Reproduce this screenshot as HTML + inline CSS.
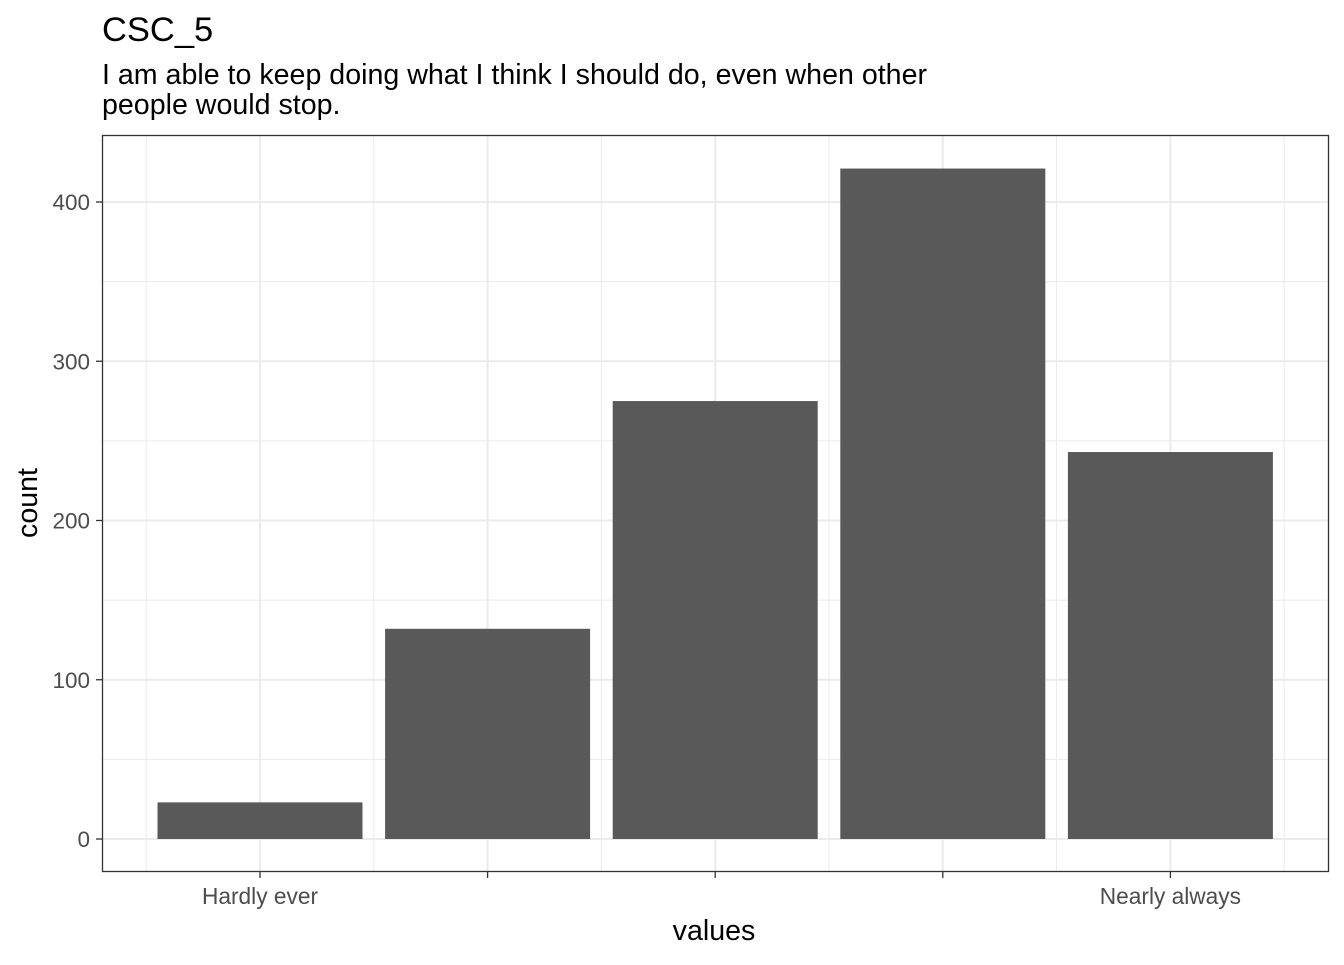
<!DOCTYPE html>
<html><head><meta charset="utf-8"><style>
body{margin:0;background:#fff;font-family:"Liberation Sans",Arial,sans-serif;}
</style></head><body>
<svg id="chart" width="1344" height="960" xmlns="http://www.w3.org/2000/svg">
<text x="102" y="41" font-size="34.5" fill="#000">CSC_5</text>
<text x="102" y="84" font-size="28.6" fill="#000">I am able to keep doing what I think I should do, even when other</text>
<text x="102" y="114" font-size="28.6" fill="#000">people would stop.</text>
<g id="grid"></g>
<g id="bars"></g>
<rect x="102.5" y="135.5" width="1226" height="736" fill="none" stroke="#333" stroke-width="1.3"/>
<g id="axes"></g>
<text x="714" y="940" font-size="28.6" text-anchor="middle">values</text>
<text transform="translate(37,503) rotate(-90)" font-size="28.6" text-anchor="middle">count</text>
</svg>
<script>
const categories = ["1","2","3","4","5"];
const tickLabels = ["Hardly ever","","","","Nearly always"];
const counts = [23, 132, 275, 421, 243];
const yTicks = [0,100,200,300,400];
const NS="http://www.w3.org/2000/svg";
const x0=102,x1=1329,y0=135,y1=872;
const step=227.6, first=260;
function xs(i){return first+i*step;}
function ys(v){return 839-v*1.5925;}
const grid=document.getElementById('grid'),bars=document.getElementById('bars'),axes=document.getElementById('axes');
function mk(tag,attrs,parent){const e=document.createElementNS(NS,tag);for(const k in attrs)e.setAttribute(k,attrs[k]);parent.appendChild(e);return e;}
for(let v=-50;v<=450;v+=100){const y=ys(v);if(y<y0||y>y1)continue;
 const l=mk('line',{x1:x0,x2:x1,y1:y,y2:y,stroke:'#ebebeb','stroke-width':1},grid);
 
 }
for(let i=-0.5;i<categories.length;i++){const x=xs(i);
 const l=mk('line',{x1:x,x2:x,y1:y0,y2:y1,stroke:'#ebebeb','stroke-width':1},grid);
 
 }
yTicks.forEach(v=>{const y=ys(v);
 const l=mk('line',{x1:x0,x2:x1,y1:y,y2:y,stroke:'#ebebeb','stroke-width':2},grid);
 
 
 const t=mk('line',{x1:96,x2:102,y1:y,y2:y,stroke:'#333','stroke-width':1.3},axes);
 
 
 const tx=mk('text',{x:90,y:y+8,'font-size':22.5,fill:'#4d4d4d','text-anchor':'end'},axes);
 tx.textContent=v;
 
 });
categories.forEach((c,i)=>{const x=xs(i);
 const l=mk('line',{x1:x,x2:x,y1:y0,y2:y1,stroke:'#ebebeb','stroke-width':2},grid);
 
 
 const r=mk('rect',{x:x-102.5,width:205,y:ys(counts[i]),height:ys(0)-ys(counts[i]),fill:'#595959'},bars);
 
 
 const t=mk('line',{x1:x,x2:x,y1:872,y2:878,stroke:'#333','stroke-width':1.3},axes);
 
 
 if(tickLabels[i]){const tx=mk('text',{x:x,y:904,'font-size':22.7,fill:'#4d4d4d','text-anchor':'middle'},axes);
 tx.textContent=tickLabels[i];
 
 }});
</script>
</body></html>
